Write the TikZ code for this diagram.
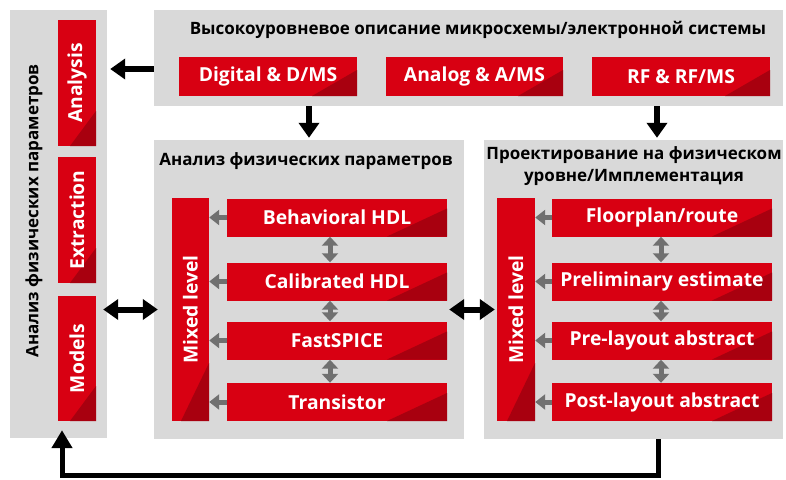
\documentclass[tikz,border=0pt]{standalone}
\usepackage{fontspec}
\setmainfont{Open Sans}
\usetikzlibrary{arrows.meta,calc}
\definecolor{redA}{RGB}{216,0,18}
\definecolor{redB}{RGB}{168,0,15}
\definecolor{panelgray}{RGB}{217,217,217}
\definecolor{arrgray}{RGB}{112,112,112}
\begin{document}
\begin{tikzpicture}[x=1pt,y=-1pt,
  panel/.style={fill=panelgray, draw=none, inner sep=0pt},
  redbox/.style n args={2}{fill=redA, text=white, inner sep=0pt,
    font=\bfseries\fontsize{19.3}{22}\selectfont,
    path picture={\fill[redB] (path picture bounding box.south east) -- ++(-#1,0) -- ++(#1,-#2) -- cycle;}},
  title/.style={text=black, inner sep=0pt, font=\bfseries\fontsize{17}{21.5}\selectfont},
  blackarr/.style={draw=black, line width=5.5pt, -{Triangle[width=20pt,length=15pt]}},
  blackdbl/.style={draw=black, line width=6pt, {Triangle[width=20pt,length=15pt]}-{Triangle[width=20pt,length=15pt]}},
  grayL/.style={draw=arrgray, line width=5pt, -{Triangle[width=15pt,length=10pt]}},
  grayV/.style={draw=arrgray, line width=5pt, {Triangle[width=16pt,length=9pt]}-{Triangle[width=16pt,length=9pt]}}
]
\useasboundingbox (0,0) rectangle (786,479);
\fill[white] (0,0) rectangle (786,479);

% panels
\node[panel, minimum width=97, minimum height=428] (lp) at (58.5,224) {};
\node[panel, minimum width=629, minimum height=96] (tp) at (468.5,58) {};
\node[panel, minimum width=310, minimum height=299] (mp) at (309,289.5) {};
\node[panel, minimum width=299, minimum height=299] (rp) at (633.5,289.5) {};

% titles
\node[title] (tpt) at (478,30) {Высокоуровневое описание микросхемы/электронной системы};
\node[title] (mpt) at (306,161) {Анализ физических параметров};
\node[title, align=center] (rpt) at (634,166) {Проектирование на физическом\\уровне/Имплементация};
\node[title] (lpt) at (34,211) {\rotatebox{90}{Анализ физических параметров}};

% left column boxes
\node[redbox={26}{35}, minimum width=38, minimum height=126] (ana) at (77,83) {\rotatebox{90}{Analysis}};
\node[redbox={26}{35}, minimum width=38, minimum height=126] (ext) at (77,220) {\rotatebox{90}{Extraction}};
\node[redbox={26}{35}, minimum width=38, minimum height=125] (mod) at (77,358.5) {\rotatebox{90}{Models}};

% top boxes
\node[redbox={45}{26}, minimum width=178, minimum height=39] (dig) at (268,76.5) {Digital \& D/MS};
\node[redbox={45}{26}, minimum width=177, minimum height=39] (anl) at (474.5,76.5) {Analog \& A/MS};
\node[redbox={45}{26}, minimum width=178, minimum height=39] (rf) at (681,76.5) {RF \& RF/MS};

% mixed level
\node[redbox={28}{58}, minimum width=37, minimum height=223] (mixL) at (190.5,309.5) {\rotatebox{90}{Mixed level}};
\node[redbox={28}{58}, minimum width=38, minimum height=223] (mixR) at (516,309.5) {\rotatebox{90}{Mixed level}};

% middle rows
\node[redbox={60}{28}, minimum width=220, minimum height=38] (beh) at (337,217.5) {Behavioral HDL};
\node[redbox={60}{28}, minimum width=220, minimum height=38] (cal) at (337,281.5) {Calibrated HDL};
\node[redbox={60}{28}, minimum width=220, minimum height=38] (fsp) at (337,340.5) {FastSPICE};
\node[redbox={60}{28}, minimum width=220, minimum height=38] (tra) at (337,402) {Transistor};

% right rows
\node[redbox={60}{28}, minimum width=220, minimum height=38] (flo) at (662,217.5) {Floorplan/route};
\node[redbox={60}{28}, minimum width=220, minimum height=38] (pre) at (662,281.5) {Preliminary estimate};
\node[redbox={60}{28}, minimum width=220, minimum height=38] (prl) at (662,340.5) {Pre-layout abstract};
\node[redbox={60}{28}, minimum width=220, minimum height=38] (pos) at (662,402) {Post-layout abstract};

% gray arrows to mixed level
\foreach \r in {beh,cal,fsp,tra}{\draw[grayL] (\r.west) -- (\r.west -| mixL.east);}
\foreach \r in {flo,pre,prl,pos}{\draw[grayL] (\r.west) -- (\r.west -| mixR.east);}
% gray vertical double arrows
\draw[grayV] ([xshift=-7pt]beh.south) -- ([xshift=-7pt]cal.north);
\draw[grayV] ([xshift=-7pt]cal.south) -- ([xshift=-7pt]fsp.north);
\draw[grayV] ([xshift=-7pt]fsp.south) -- ([xshift=-7pt]tra.north);
\draw[grayV] ([xshift=-1pt]flo.south) -- ([xshift=-1pt]pre.north);
\draw[grayV] ([xshift=-1pt]pre.south) -- ([xshift=-1pt]prl.north);
\draw[grayV] ([xshift=-1pt]prl.south) -- ([xshift=-1pt]pos.north);

% black arrows
\draw[blackarr, shorten >=3pt] ($(tp.west |- dig.center)+(0,-7.5)$) -- ($(lp.east |- dig.center)+(0,-7.5)$);
\draw[blackarr, shorten >=2pt] (tp.south -| mp.north) -- (mp.north);
\coordinate (dr) at (657,0);
\draw[blackarr, shorten >=2pt] (tp.south -| dr) -- (rp.north -| dr);
\draw[blackdbl, shorten <=-4pt, shorten >=-4pt] (lp.east |- mixL.center) -- (mp.west |- mixL.center);
\draw[blackdbl, shorten <=-15pt, shorten >=-11pt] (mp.east |- mixR.center) -- (rp.west |- mixR.center);

% bottom feedback connector
\coordinate (br) at (658,475);
\coordinate (bl) at (62,475);
\draw[draw=black, line width=5pt, line join=miter, -{Triangle[width=20pt,length=18pt]}, shorten >=9pt]
  (rp.south -| br) -- (br) -- (bl) -- (bl |- mod.south);
\end{tikzpicture}
\end{document}
